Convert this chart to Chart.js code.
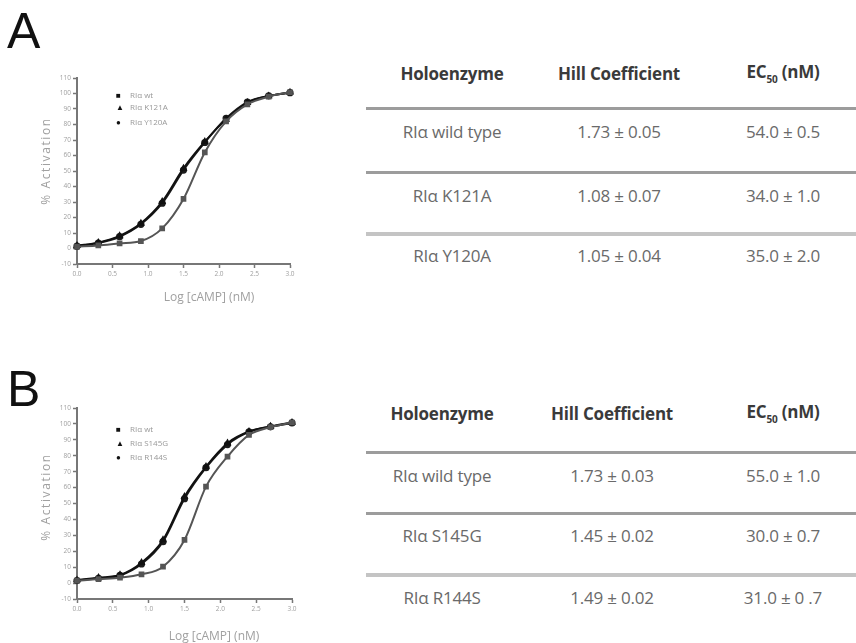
<!DOCTYPE html>
<html>
<head>
<meta charset="utf-8">
<script src="https://cdn.jsdelivr.net/npm/chart.js@4.4.1/dist/chart.umd.min.js"></script>
<style>
  html, body { margin: 0; padding: 0; background: #fff; }
  body { width: 856px; height: 643px; position: relative; overflow: hidden; font-family: "Open Sans", sans-serif; }
  .panel { position: absolute; font-family: "Liberation Sans", Arial, sans-serif; font-size: 50px; color: #111; line-height: 1; }
  canvas { position: absolute; }
  .leg { position: absolute; font-size: 8px; color: #999; font-family: "Open Sans", sans-serif; white-space: nowrap; line-height: 10px; }
  .leg span { display: inline-block; width: 14px; color: #111; font-size: 8px; }
  .cell { position: absolute; transform: translate(-50%, -50%); white-space: nowrap; font-size: 17px; color: #6a6a6a; letter-spacing: -0.2px; }
  .head { font-weight: bold; color: #3a3a3a; }
  .rule { position: absolute; height: 3px; background: #9c9c9c; }
  .axt { position: absolute; white-space: nowrap; font-size: 12px; color: #a0a0a0; line-height: 14px; }
  .axt.rot { transform: translate(-50%, -50%) rotate(-90deg); letter-spacing: 1.6px; }
  .axt.hor { transform: translate(-50%, -50%); }
</style>
</head>
<body>
<div class="panel" style="left:7px;top:6px;">A</div>
<div class="panel" style="left:7px;top:364px;">B</div>
<canvas id="chartA" width="272" height="250" style="left:38px;top:60px;"></canvas>
<canvas id="chartB" width="274" height="253" style="left:38px;top:390px;"></canvas>
<div id="extras"></div>
<script>
// x values: log [cAMP] (nM)
const logCamp = [0, 0.3, 0.6, 0.9, 1.2, 1.5, 1.8, 2.1, 2.4, 2.7, 3.0];

// panel A, % activation
const wtA = [1.2, 2.0, 3.3, 4.8, 13, 32, 62, 82, 93, 98, 100.8];
const k121a = [1.8, 3.8, 8.1, 16.2, 30.2, 51.7, 68.9, 83.3, 94.1, 98.4, 100.8];
const y120a = [1.5, 3.5, 7.6, 15.6, 29.2, 50.6, 68.4, 84, 94.5, 98.5, 100.5];

// panel B, % activation
const wtB = [1.5, 2.5, 3.4, 5.5, 10.3, 27.1, 60.6, 79.5, 93.1, 98, 100.9];
const s145g = [1.9, 3.4, 5.1, 12.8, 27.1, 54.3, 73.2, 87.9, 95.2, 98.4, 100.9];
const r144s = [1.6, 3.0, 4.8, 12, 26, 53, 72.5, 87, 95, 98.2, 100.6];

const labelsA = ["RIα wt", "RIα K121A", "RIα Y120A"];
const labelsB = ["RIα wt", "RIα S145G", "RIα R144S"];
const xTitle = "Log [cAMP] (nM)";
const yTitle = "% Activation";

// tables
const tableHead = ["Holoenzyme", "Hill Coefficient", "EC<sub style='font-size:10px'>50</sub> (nM)"];
const holoA = ["RIα wild type", "RIα K121A", "RIα Y120A"];
const hillA = ["1.73 ± 0.05", "1.08 ± 0.07", "1.05 ± 0.04"];
const ec50A = ["54.0 ± 0.5", "34.0 ± 1.0", "35.0 ± 2.0"];
const holoB = ["RIα wild type", "RIα S145G", "RIα R144S"];
const hillB = ["1.73 ± 0.03", "1.45 ± 0.02", "1.49 ± 0.02"];
const ec50B = ["55.0 ± 1.0", "30.0 ± 0.7", "31.0 ± 0 .7"];

const markers = ["rect", "triangle", "circle"];
const lineColors = ["#555", "#111", "#1c1c1c"];
const markerChars = ["■", "▲", "●"];

function makeChart(id, series, labels, xAxisH) {
  const datasets = series.map((vals, i) => ({
    label: labels[i],
    data: logCamp.map((x, j) => ({ x: x, y: vals[j] })),
    borderColor: lineColors[i],
    backgroundColor: lineColors[i],
    borderWidth: 2,
    pointStyle: markers[i],
    pointRadius: 2.6,
    cubicInterpolationMode: "monotone",
    clip: 8
  }));
  const tickFont = { size: 6.5, family: "Open Sans" };
  return new Chart(document.getElementById(id), {
    type: "line",
    data: { datasets: datasets },
    options: {
      responsive: false,
      animation: false,
      devicePixelRatio: 1,
      layout: { padding: { top: 18, right: 20, left: 0, bottom: 0 } },
      plugins: { legend: { display: false }, tooltip: { enabled: false } },
      scales: {
        x: {
          type: "linear", min: 0, max: 3,
          ticks: { stepSize: 0.5, callback: v => v.toFixed(1), font: tickFont, color: "#a0a0a0", padding: 2, maxRotation: 0 },
          grid: { drawOnChartArea: false, tickLength: 4, color: "#777", tickWidth: 1.5 },
          border: { color: "#777", width: 2 },
          afterFit: s => { s.height = xAxisH; }
        },
        y: {
          min: -10, max: 110,
          ticks: { stepSize: 10, font: tickFont, color: "#a0a0a0", padding: 2 },
          grid: { drawOnChartArea: false, tickLength: 4, color: "#777", tickWidth: 1.5 },
          border: { color: "#777", width: 2 },
          afterFit: s => { s.width = 39; }
        }
      }
    }
  });
}

makeChart("chartA", [wtA, k121a, y120a], labelsA, 46);
makeChart("chartB", [wtB, s145g, r144s], labelsB, 44);

const extras = document.getElementById("extras");
function add(html, cls, style) {
  const d = document.createElement("div");
  d.className = cls;
  d.innerHTML = html;
  d.style.cssText = style;
  extras.appendChild(d);
}

// axis titles sit off-centre in the original, so they are placed by hand
add(yTitle, "axt rot", "left:46px;top:161px;");
add(xTitle, "axt hor", "left:209px;top:297px;");
add(yTitle, "axt rot", "left:46px;top:497px;");
add(xTitle, "axt hor", "left:214px;top:636px;");

function legend(labels, left, tops) {
  labels.forEach((t, i) => {
    add("<span>" + markerChars[i] + "</span>" + t, "leg", "left:" + left + "px;top:" + tops[i] + "px;");
  });
}
legend(labelsA, 116, [90, 102, 117]);
legend(labelsB, 116, [424, 438, 452]);

function table(holo, hill, ec50, cols, headY, rowYs, ruleYs) {
  tableHead.forEach((h, i) => add(h, "cell head", "left:" + cols[i] + "px;top:" + headY + "px;"));
  [holo, hill, ec50].forEach((col, c) => {
    col.forEach((t, r) => add(t, "cell", "left:" + cols[c] + "px;top:" + rowYs[r] + "px;"));
  });
  ruleYs.forEach((y, i) => {
    const light = i === 2 ? "background:#c4c4c4;height:4px;" : "";
    add("", "rule", "left:366px;width:490px;top:" + (y - 1) + "px;" + light);
  });
}
table(holoA, hillA, ec50A, [452, 619, 783], 73, [131, 195, 255], [108, 172, 233]);
table(holoB, hillB, ec50B, [442, 612, 783], 413, [475, 535, 597], [452, 513, 574]);
</script>
</body>
</html>
